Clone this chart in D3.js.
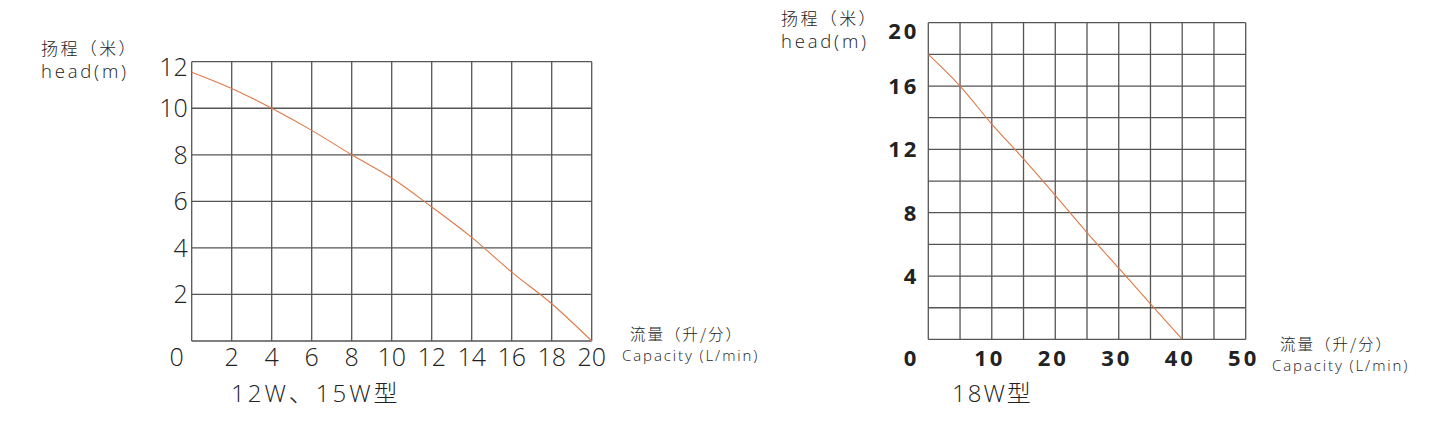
<!DOCTYPE html>
<html>
<head>
<meta charset="utf-8">
<script src="https://cdn.jsdelivr.net/npm/d3@7"></script>
<style>
  html, body { margin: 0; padding: 0; background: #fff; }
  svg { display: block; }
</style>
</head>
<body>
<div id="canvas"></div>
<script>
// Pump curves: 12W/15W (left) and 18W (right)

// ---- data ----
const leftFlow = [0, 2, 4, 6, 8, 10, 12, 14, 16, 18, 20];
const leftHead = [11.55, 10.85, 10.0, 9.05, 8.0, 7.0, 5.76, 4.45, 2.96, 1.6, 0];
const leftGridX = [0, 2, 4, 6, 8, 10, 12, 14, 16, 18, 20];
const leftGridY = [0, 2, 4, 6, 8, 10, 12];
const leftXTicks = ["2", "4", "6", "8", "10", "12", "14", "16", "18", "20"];
const leftYTicks = ["2", "4", "6", "8", "10", "12"];

const rightFlow = [0, 5, 10, 15, 20, 25, 30, 35, 40];
const rightHead = [18, 16, 13.6, 11.4, 9.1, 6.75, 4.5, 2.25, 0];
const rightGridX = [0, 5, 10, 15, 20, 25, 30, 35, 40, 45, 50];
const rightGridY = [0, 2, 4, 6, 8, 10, 12, 14, 16, 18, 20];
const rightXTicks = ["10", "20", "30", "40", "50"];
const rightYTicks = ["4", "8", "12", "16", "20"];

const headTitle = ["扬程（米）", "head(m)"];
const flowTitle = ["流量（升/分）", "Capacity (L/min)"];
const leftModel = "12W、15W型";
const rightModel = "18W型";

const width = 1438, height = 429;
const font = "'Open Sans', 'Noto Sans CJK SC', sans-serif";
const cjkFont = "'Noto Sans CJK SC', sans-serif";
const gridColor = "#555";
const curveColor = "#de7a47";
const textColor = "#222";

const svg = d3.select("#canvas").append("svg")
  .attr("width", width).attr("height", height)
  .style("background", "#fff");

// two-line title: Chinese line over English line
function twoLine(g, x, y, lines, gap, indent, cjkSize, latSize, cjkSpacing, latSpacing) {
  g.append("text").attr("x", x + indent).attr("y", y)
    .attr("fill", textColor).style("font-weight", 300)
    .style("font-family", cjkFont).style("font-size", cjkSize + "px")
    .style("letter-spacing", cjkSpacing + "px")
    .text(lines[0]);
  g.append("text").attr("x", x).attr("y", y + gap)
    .attr("fill", textColor).style("font-weight", 300)
    .style("font-family", font).style("font-size", latSize + "px")
    .style("letter-spacing", latSpacing + "px")
    .text(lines[1]);
}

function drawChart(opt) {
  const x = d3.scaleLinear().domain(opt.xDomain).range(opt.xRange);
  const y = d3.scaleLinear().domain(opt.yDomain).range(opt.yRange);
  const g = svg.append("g");

  // grid
  g.selectAll(".vg").data(opt.gridX).join("line")
    .attr("x1", d => x(d)).attr("x2", d => x(d))
    .attr("y1", y(opt.yDomain[0])).attr("y2", y(opt.yDomain[1]))
    .attr("stroke", gridColor).attr("stroke-width", 1.3);
  g.selectAll(".hg").data(opt.gridY).join("line")
    .attr("x1", x(opt.xDomain[0])).attr("x2", x(opt.xDomain[1]))
    .attr("y1", d => y(d)).attr("y2", d => y(d))
    .attr("stroke", gridColor).attr("stroke-width", 1.3);

  // curve
  const line = d3.line().x((d, i) => x(opt.flow[i])).y(d => y(d))
    .curve(d3.curveMonotoneX);
  g.append("path").datum(opt.head)
    .attr("d", line)
    .attr("fill", "none")
    .attr("stroke", curveColor)
    .attr("stroke-width", 1.1);

  // tick labels
  const top = opt.yDomain[1];
  g.selectAll(".yt").data(opt.yTicks).join("text")
    .attr("x", x(0) - opt.yLabelGap)
    .attr("y", d => y(+d) + (+d === top ? opt.topShift : 0))
    .attr("dy", "0.36em")
    .attr("text-anchor", "end")
    .style("font-family", font).style("font-size", opt.tickSize + "px")
    .style("font-weight", opt.tickWeight).style("letter-spacing", opt.tickSpacing + "px")
    .attr("fill", textColor)
    .text(d => d);
  g.selectAll(".xt").data(opt.xTicks).join("text")
    .attr("x", d => x(+d) + opt.xLabelShift)
    .attr("y", 366)
    .attr("text-anchor", "middle")
    .style("font-family", font).style("font-size", opt.tickSize + "px")
    .style("font-weight", opt.tickWeight).style("letter-spacing", opt.tickSpacing + "px")
    .attr("fill", textColor)
    .text(d => d);
  g.append("text")
    .attr("x", x(0) - opt.zeroGap).attr("y", 366)
    .attr("text-anchor", "end")
    .style("font-family", font).style("font-size", opt.tickSize + "px")
    .style("font-weight", opt.tickWeight).style("letter-spacing", opt.tickSpacing + "px")
    .attr("fill", textColor)
    .text("0");

  // axis titles
  twoLine(g, opt.headX, opt.headY, headTitle, 23, 0, 17, 18.5, 2.4, 2.8);
  twoLine(g, opt.flowX, opt.flowY, flowTitle, 21, 8, 15.5, 15, 2, 1.9);

  // model name
  g.append("text").attr("x", opt.modelX).attr("y", 402)
    .style("font-family", font).style("font-size", "24px").style("font-weight", 300)
    .style("letter-spacing", opt.modelSpacing + "px")
    .attr("fill", textColor).text(opt.model);
}

drawChart({
  xDomain: [0, 20], xRange: [191.7, 591.7],
  yDomain: [0, 12], yRange: [341, 61.7],
  gridX: leftGridX, gridY: leftGridY,
  flow: leftFlow, head: leftHead,
  xTicks: leftXTicks, yTicks: leftYTicks,
  tickSize: 25, tickWeight: 300, tickSpacing: 0,
  yLabelGap: 4, zeroGap: 8, xLabelShift: 0, topShift: 5,
  headX: 41, headY: 55,
  flowX: 622, flowY: 340,
  model: leftModel, modelX: 231, modelSpacing: 3
});

drawChart({
  xDomain: [0, 50], xRange: [928.3, 1245.7],
  yDomain: [0, 20], yRange: [339.4, 22.7],
  gridX: rightGridX, gridY: rightGridY,
  flow: rightFlow, head: rightHead,
  xTicks: rightXTicks, yTicks: rightYTicks,
  tickSize: 22, tickWeight: 700, tickSpacing: 3,
  yLabelGap: 9, zeroGap: 9, xLabelShift: -2, topShift: 8,
  headX: 781, headY: 25,
  flowX: 1272, flowY: 350,
  model: rightModel, modelX: 952, modelSpacing: 2
});
</script>
</body>
</html>
